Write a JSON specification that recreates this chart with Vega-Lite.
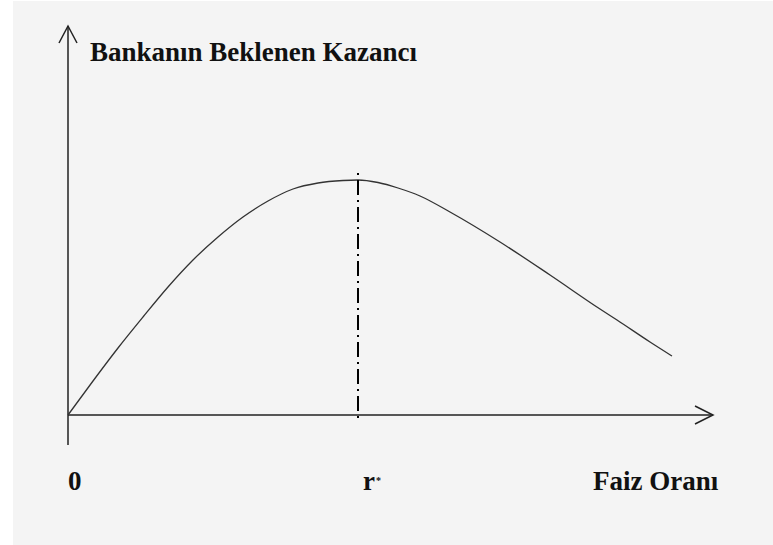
{
  "$schema": "https://vega.github.io/schema/vega-lite/v6.json",
  "width": 760,
  "height": 544,
  "autosize": {"type": "none"},
  "padding": {"left": 13, "top": 1, "right": 0, "bottom": 0},
  "background": "#ffffff",
  "config": {"view": {"fill": "#f4f4f4", "stroke": null}},
  "datasets": {
    "curve": [
      {"x": 0, "y": 0},
      {"x": 25, "y": 34},
      {"x": 50, "y": 67},
      {"x": 75, "y": 98},
      {"x": 100, "y": 128},
      {"x": 125, "y": 155},
      {"x": 150, "y": 178},
      {"x": 175, "y": 198},
      {"x": 200, "y": 214},
      {"x": 225, "y": 226},
      {"x": 250, "y": 232},
      {"x": 275, "y": 234.5},
      {"x": 290, "y": 235},
      {"x": 310, "y": 232.5},
      {"x": 330, "y": 227},
      {"x": 352, "y": 219},
      {"x": 382, "y": 203},
      {"x": 432, "y": 173},
      {"x": 482, "y": 140},
      {"x": 532, "y": 106},
      {"x": 549, "y": 95},
      {"x": 582, "y": 73},
      {"x": 604, "y": 59}
    ],
    "axes": [
      {"part": "y-axis", "order": 0, "x": 0, "y": -30},
      {"part": "y-axis", "order": 1, "x": 0, "y": 389},
      {"part": "y-head", "order": 0, "x": -9, "y": 372},
      {"part": "y-head", "order": 1, "x": 0, "y": 389},
      {"part": "y-head", "order": 2, "x": 9, "y": 372},
      {"part": "x-axis", "order": 0, "x": 0, "y": 0},
      {"part": "x-axis", "order": 1, "x": 645, "y": 0},
      {"part": "x-head", "order": 0, "x": 627, "y": 9},
      {"part": "x-head", "order": 1, "x": 645, "y": 0},
      {"part": "x-head", "order": 2, "x": 627, "y": -9}
    ],
    "marker": [
      {"x": 290, "y": 242, "y2": -3}
    ],
    "labels": [
      {"label": "Bankanın Beklenen Kazancı", "x": 22, "y": 354},
      {"label": "0", "x": 0, "y": -75},
      {"label": "r", "x": 295, "y": -75},
      {"label": "Faiz Oranı", "x": 525, "y": -75}
    ],
    "star": [
      {"label": "*", "x": 308, "y": -69}
    ]
  },
  "layer": [
    {
      "data": {"name": "axes"},
      "mark": {"type": "line", "color": "#222222", "strokeWidth": 1.5},
      "encoding": {
        "x": {"field": "x", "type": "quantitative", "scale": {"domain": [-55, 705], "nice": false, "zero": false}, "axis": null},
        "y": {"field": "y", "type": "quantitative", "scale": {"domain": [-130, 414], "nice": false, "zero": false}, "axis": null},
        "detail": {"field": "part"},
        "order": {"field": "order", "type": "quantitative"}
      }
    },
    {
      "data": {"name": "curve"},
      "mark": {"type": "line", "color": "#333333", "strokeWidth": 1.3, "interpolate": "monotone"},
      "encoding": {
        "x": {"field": "x", "type": "quantitative", "scale": {"domain": [-55, 705], "nice": false, "zero": false}, "axis": null},
        "y": {"field": "y", "type": "quantitative", "scale": {"domain": [-130, 414], "nice": false, "zero": false}, "axis": null}
      }
    },
    {
      "data": {"name": "marker"},
      "mark": {"type": "rule", "color": "#000000", "strokeWidth": 2, "strokeDash": [2, 5, 15, 5]},
      "encoding": {
        "x": {"field": "x", "type": "quantitative", "scale": {"domain": [-55, 705], "nice": false, "zero": false}, "axis": null},
        "y": {"field": "y", "type": "quantitative", "scale": {"domain": [-130, 414], "nice": false, "zero": false}, "axis": null},
        "y2": {"field": "y2"}
      }
    },
    {
      "data": {"name": "labels"},
      "mark": {"type": "text", "align": "left", "baseline": "alphabetic", "font": "Liberation Serif", "fontWeight": "bold", "fontSize": 27, "color": "#111111"},
      "encoding": {
        "x": {"field": "x", "type": "quantitative", "scale": {"domain": [-55, 705], "nice": false, "zero": false}, "axis": null},
        "y": {"field": "y", "type": "quantitative", "scale": {"domain": [-130, 414], "nice": false, "zero": false}, "axis": null},
        "text": {"field": "label"}
      }
    },
    {
      "data": {"name": "star"},
      "mark": {"type": "text", "align": "left", "baseline": "alphabetic", "font": "Liberation Serif", "fontWeight": "bold", "fontSize": 10, "color": "#111111"},
      "encoding": {
        "x": {"field": "x", "type": "quantitative", "scale": {"domain": [-55, 705], "nice": false, "zero": false}, "axis": null},
        "y": {"field": "y", "type": "quantitative", "scale": {"domain": [-130, 414], "nice": false, "zero": false}, "axis": null},
        "text": {"field": "label"}
      }
    }
  ]
}
